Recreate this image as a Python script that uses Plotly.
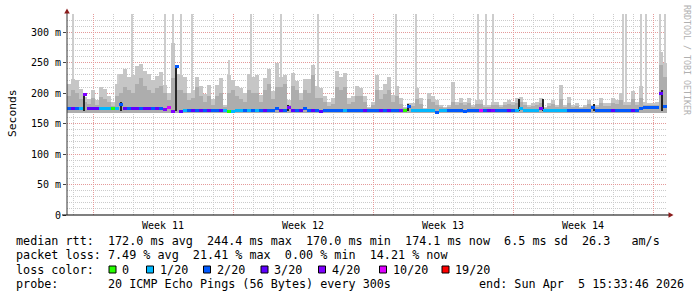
import numpy as np
import plotly.graph_objects as go

# ---------------- data ----------------
SPAN_DAYS = 30          # 30-day SmokePing graph
COL_DAYS = 0.2          # one smoke column every 0.2 day
FIRST_SUNDAY = 1.3      # first week boundary, days after graph start

week_labels = ["Week 11", "Week 12", "Week 13", "Week 14"]

y_tick_vals = [0, 50, 100, 150, 200, 250, 300]
y_tick_text = ["0", "50 m", "100 m", "150 m", "200 m", "250 m", "300 m"]

# upper edge of the light smoke (ms) per column
smoke_top = [
    215, 224, 222, 206, 193, 190, 205, 188, 210, 207,
    195, 185, 215, 232, 240, 226, 230, 244, 248, 236,
    232, 222, 228, 235, 214, 200, 282, 232, 230, 226,
    200, 205, 227, 211, 198, 214, 190, 214, 225, 181,
    230, 222, 211, 208, 200, 231, 226, 230, 197, 225,
    239, 203, 250, 227, 230, 189, 233, 220, 200, 223,
    223, 246, 211, 208, 195, 186, 192, 237, 227, 233,
    192, 195, 211, 209, 195, 178, 186, 230, 205, 215,
    227, 197, 211, 192, 178, 184, 184, 208, 192, 176,
    200, 195, 189, 181, 178, 181, 219, 186, 192, 186,
    192, 181, 189, 189, 181, 181, 186, 186, 181, 186,
    189, 186, 192, 193, 186, 181, 184, 186, 192, 178,
    184, 189, 181, 213, 181, 193, 181, 184, 178, 181,
    189, 181, 181, 192, 184, 184, 192, 189, 200, 186,
    186, 203, 186, 211, 186, 184, 184, 186, 268, 250,
]
# upper edge of the darker smoke (ms) per column
smoke_mid = [
    195, 205, 200, 190, 185, 182, 192, 181, 193, 190,
    185, 179, 195, 200, 210, 205, 200, 215, 225, 212,
    205, 200, 208, 212, 200, 188, 225, 205, 205, 200,
    188, 192, 210, 195, 186, 195, 181, 195, 200, 177,
    200, 205, 195, 190, 186, 205, 200, 200, 185, 205,
    215, 190, 210, 210, 215, 180, 212, 205, 188, 205,
    200, 230, 192, 192, 185, 179, 183, 210, 205, 210,
    183, 185, 195, 195, 185, 175, 180, 205, 190, 198,
    205, 186, 195, 183, 175, 179, 179, 190, 183, 174,
    190, 185, 181, 177, 175, 177, 185, 180, 184, 180,
    184, 177, 182, 182, 177, 177, 180, 180, 177, 180,
    182, 180, 184, 185, 180, 177, 179, 180, 184, 175,
    179, 182, 177, 190, 177, 184, 177, 179, 175, 177,
    182, 177, 177, 184, 179, 179, 184, 182, 188, 181,
    181, 190, 181, 192, 181, 180, 180, 181, 246, 226,
]
# median rtt (ms) per column
median_ms = [
    175, 175, 175, 175, 198, 175, 175, 175, 175, 174,
    175, 175, 175, 181, 175, 175, 175, 174, 175, 175,
    174, 175, 175, 174, 173, 176, 170, 244, 170, 172,
    171, 171, 171, 171, 171, 171, 171, 171, 171, 171,
    170, 170, 171, 171, 171, 171, 171, 171, 171, 171,
    171, 171, 175, 171, 171, 177, 171, 171, 171, 174,
    171, 171, 171, 170, 171, 171, 171, 171, 171, 171,
    171, 171, 171, 171, 171, 172, 171, 171, 171, 171,
    171, 171, 171, 171, 171, 178, 171, 171, 171, 171,
    171, 171, 169, 171, 171, 171, 171, 171, 171, 170,
    171, 171, 171, 171, 171, 171, 172, 171, 171, 171,
    171, 171, 171, 174, 171, 171, 171, 171, 175, 171,
    171, 171, 171, 171, 171, 172, 171, 171, 171, 171,
    171, 177, 171, 171, 171, 171, 171, 171, 171, 171,
    171, 171, 171, 174, 176, 176, 176, 176, 200, 178,
]
# lost pings (out of 20) per column
loss_of_20 = [
    2, 3, 2, 1, 4, 3, 3, 3, 1, 1,
    1, 0, 1, 2, 3, 2, 3, 3, 2, 3,
    3, 2, 3, 2, 4, 10, 4, 2, 3, 1,
    2, 3, 2, 3, 2, 3, 2, 2, 3, 1,
    0, 1, 1, 1, 2, 1, 2, 1, 2, 3,
    2, 2, 2, 3, 2, 4, 3, 2, 3, 2,
    2, 3, 2, 3, 2, 2, 2, 2, 2, 1,
    2, 2, 2, 2, 3, 2, 2, 2, 3, 2,
    3, 2, 2, 4, 0, 2, 1, 1, 1, 1,
    1, 1, 2, 1, 1, 2, 2, 2, 2, 2,
    2, 2, 2, 10, 2, 3, 4, 2, 2, 2,
    3, 2, 1, 1, 1, 1, 1, 1, 4, 1,
    1, 1, 1, 1, 1, 2, 2, 2, 2, 2,
    2, 2, 2, 2, 2, 2, 3, 2, 2, 2,
    2, 3, 2, 2, 2, 2, 2, 2, 3, 2,
]
# thin light smoke spikes (day, top ms)
spike_day = [0.275, 2.55, 3.225, 4.9, 5.3, 5.7, 6.225, 8.1, 9.2, 10.7, 12.55,
             16.425, 17.425, 19.35, 20.55, 20.95, 21.3, 27.8, 27.95, 28.675,
             28.95, 29.65, 29.9]
spike_top = [335, 232, 335, 335, 335, 335, 335, 255, 335, 335, 335,
             335, 335, 219, 335, 335, 335, 335, 335, 335,
             335, 335, 335]
# thin near-black smoke cores (day, top ms)
dark_day = [0.85, 2.72, 5.45, 11.05, 17.05, 22.6, 23.8, 26.35, 29.75]
dark_top = [198, 186, 244, 181, 183, 190, 190, 182, 205]

loss_levels = [0, 1, 2, 3, 4, 10, 19]
loss_names = ["0", "1/20", "2/20", "3/20", "4/20", "10/20", "19/20"]
loss_palette = ["#26ff00", "#00b8ff", "#0059ff", "#5e00ff", "#7e00ff", "#dd00ff", "#ff0000"]

stats_line1 = "median rtt:  172.0 ms avg  244.4 ms max  170.0 ms min  174.1 ms now  6.5 ms sd  26.3   am/s"
stats_line2 = "packet loss: 7.49 % avg  21.41 % max  0.00 % min  14.21 % now"
probe_text = "probe:       20 ICMP Echo Pings (56 Bytes) every 300s"
end_text = "end: Sun Apr  5 15:33:46 2026"

# ---------------- figure ----------------
W, H = 697, 297
PL, PT, PW, PH = 67, 14, 600, 201
Y_MAX = 329.9
SMOKE_BASE = 168
MONO = "DejaVu Sans Mono"


def pxx(x):
    return (x - PL) / PW


def pxy(y):
    return (PT + PH - y) / PH


def nb(s):
    return s.replace(" ", "\u00a0")


n = len(smoke_top)
x_cols = (np.arange(n) + 0.5) * COL_DAYS
color_of = dict(zip(loss_levels, loss_palette))

fig = go.Figure()
fig.add_trace(go.Bar(x=spike_day, y=np.array(spike_top) - SMOKE_BASE, base=SMOKE_BASE,
                     width=0.1, marker=dict(color="#cdcdcd", line=dict(width=0))))
fig.add_trace(go.Bar(x=x_cols, y=np.array(smoke_top) - SMOKE_BASE, base=SMOKE_BASE,
                     width=COL_DAYS, marker=dict(color="#c6c6c6", line=dict(width=0))))
fig.add_trace(go.Bar(x=x_cols, y=np.array(smoke_mid) - SMOKE_BASE, base=SMOKE_BASE,
                     width=COL_DAYS, marker=dict(color="#adadad", line=dict(width=0))))
fig.add_trace(go.Bar(x=dark_day, y=np.array(dark_top) - 170, base=170,
                     width=0.08, marker=dict(color="#262626", line=dict(width=0))))
LINE_MS = 4.9
fig.add_trace(go.Bar(x=x_cols, y=[LINE_MS] * n, base=np.array(median_ms) - LINE_MS / 2,
                     width=COL_DAYS,
                     marker=dict(color=[color_of[v] for v in loss_of_20], line=dict(width=0))))

grid_minor = "#cbcbcb"
grid_major = "#e49a9a"
fig.update_layout(
    width=W, height=H,
    margin=dict(l=PL, r=W - PL - PW, t=PT, b=H - PT - PH, pad=0),
    paper_bgcolor="white", plot_bgcolor="white",
    barmode="overlay", bargap=0, showlegend=False, hovermode=False,
    xaxis=dict(range=[0, SPAN_DAYS], tick0=FIRST_SUNDAY, dtick=7, showgrid=True,
               gridcolor=grid_major, griddash="1px,1px", gridwidth=1,
               showticklabels=False, ticks="", zeroline=False, showline=False,
               minor=dict(tick0=FIRST_SUNDAY, dtick=1, showgrid=True, gridcolor=grid_minor,
                          griddash="1px,1px", gridwidth=1, ticks="")),
    yaxis=dict(range=[0, Y_MAX], tickvals=y_tick_vals, ticktext=y_tick_text,
               showgrid=True, gridcolor=grid_major, griddash="1px,1px", gridwidth=1,
               ticks="outside", ticklen=3, tickcolor="#444444",
               tickfont=dict(family=MONO, size=10, color="black"),
               zeroline=False, showline=False,
               minor=dict(dtick=10, showgrid=True, gridcolor=grid_minor,
                          griddash="1px,1px", gridwidth=1, ticks="")),
)

shapes = []
# axes
shapes.append(dict(type="line", xref="paper", yref="paper", x0=pxx(62), x1=pxx(670),
                   y0=0, y1=0, line=dict(color="black", width=1.2)))
shapes.append(dict(type="line", xref="paper", yref="paper", x0=0, x1=0,
                   y0=0, y1=pxy(10), line=dict(color="#333333", width=1)))
# arrows
ax, ay = pxx, pxy
shapes.append(dict(type="path", xref="paper", yref="paper",
                   path=f"M {ax(67)} {ay(8.5)} L {ax(64.2)} {ay(13.5)} L {ax(69.8)} {ay(13.5)} Z",
                   fillcolor="#8b1c1c", line=dict(width=0)))
shapes.append(dict(type="path", xref="paper", yref="paper",
                   path=f"M {ax(673.5)} {ay(215)} L {ax(668.5)} {ay(212.2)} L {ax(668.5)} {ay(217.8)} Z",
                   fillcolor="#8b1c1c", line=dict(width=0)))

annotations = []
# week labels, centred inside each week
for i, lab in enumerate(week_labels):
    annotations.append(dict(x=FIRST_SUNDAY + 3.5 + 7 * i, xref="x", y=pxy(225.5), yref="paper",
                            text=nb(lab), showarrow=False, xanchor="center", yanchor="middle",
                            font=dict(family=MONO, size=10, color="black"),
                            borderpad=0, borderwidth=0))
# y title
annotations.append(dict(x=pxx(12), y=pxy(113), xref="paper", yref="paper", text="Seconds",
                        textangle=-90, showarrow=False, xanchor="center", yanchor="middle",
                        font=dict(family=MONO, size=11.3, color="black"),
                        borderpad=0, borderwidth=0))
# watermark
annotations.append(dict(x=pxx(687), y=pxy(60), xref="paper", yref="paper",
                        text=nb("RRDTOOL / TOBI OETIKER"), textangle=90, showarrow=False,
                        xanchor="center", yanchor="middle",
                        font=dict(family=MONO, size=8.3, color="#b0b0b0"),
                        borderpad=0, borderwidth=0))

LEG = dict(family=MONO, size=11.75, color="black")


def leg(x, y, s):
    annotations.append(dict(x=pxx(x), y=pxy(y), xref="paper", yref="paper", text=nb(s),
                            showarrow=False, xanchor="left", yanchor="middle", font=LEG,
                            borderpad=0, borderwidth=0))


leg(16, 241, stats_line1)
leg(16, 255.3, stats_line2)
leg(16, 269.6, "loss color:")
leg(16, 284, probe_text)
leg(479, 284, end_text)

box_x = [109, 146.5, 203.5, 261, 318.5, 379.5, 442]
for bx, name, col in zip(box_x, loss_names, loss_palette):
    shapes.append(dict(type="rect", xref="paper", yref="paper",
                       x0=pxx(bx), x1=pxx(bx + 7), y0=pxy(273), y1=pxy(266),
                       fillcolor=col, line=dict(color="black", width=1)))
    leg(bx + 13, 269.6, name)

fig.update_layout(shapes=shapes, annotations=annotations)
fig.write_html("out.html")
